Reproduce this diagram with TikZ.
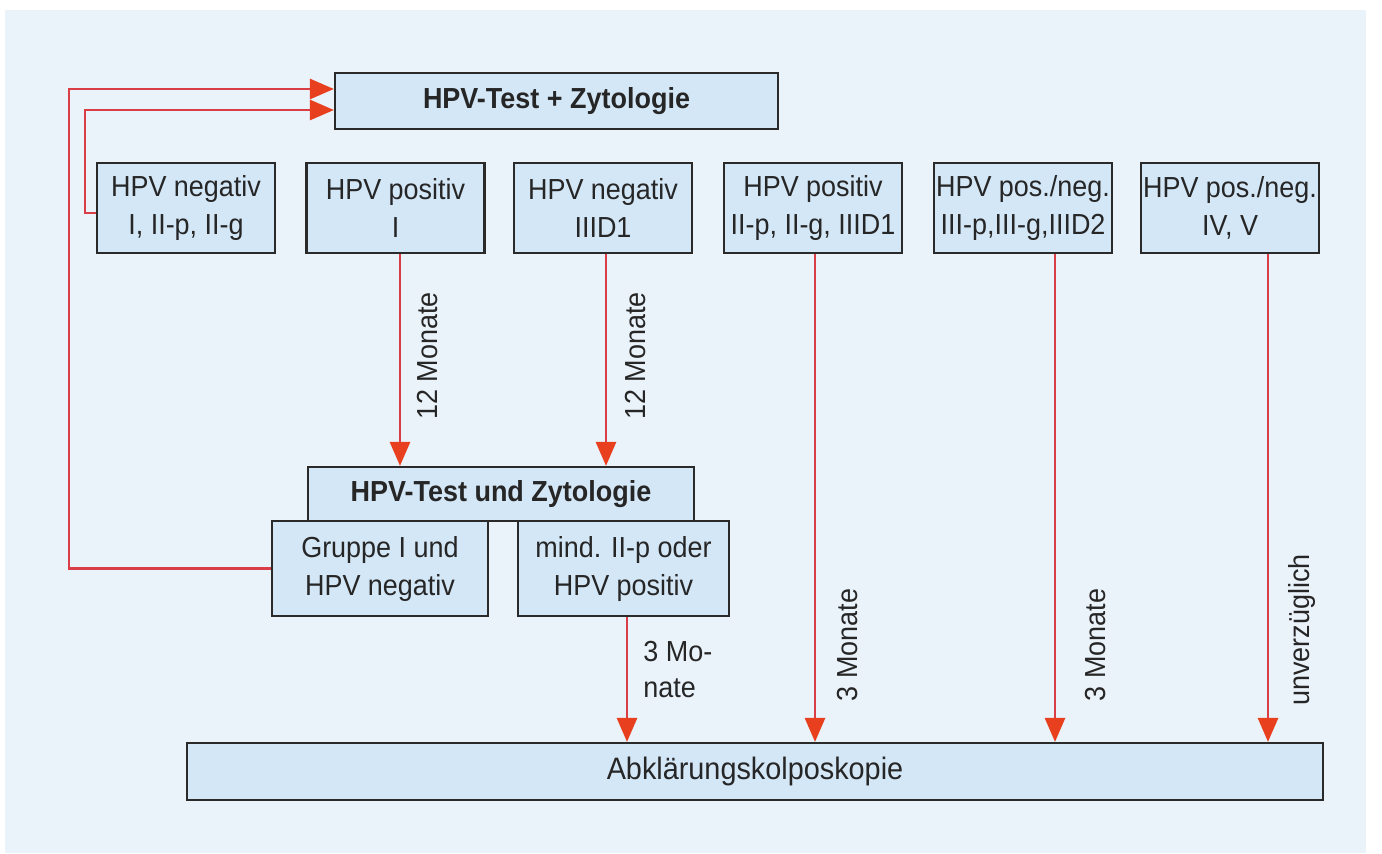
\documentclass[tikz,border=0pt]{standalone}
\usepackage{fontspec}
\setmainfont{Liberation Sans}[FakeStretch=0.93]
\usetikzlibrary{arrows.meta}
\definecolor{panel}{HTML}{EAF2FA}
\definecolor{boxfill}{HTML}{D4E7F7}
\definecolor{boxline}{HTML}{2A2A2A}
\definecolor{arrred}{HTML}{D93E46}
\definecolor{tipred}{HTML}{E8401E}
\tikzset{
  box/.style={draw=boxline, fill=boxfill, line width=1.1pt, align=center, inner sep=0pt,
    text=black!85, font=\fontsize{14.5}{19}\selectfont},
  arr/.style={draw=arrred, line width=1.4pt, -{Triangle[length=12pt,width=10pt,color=tipred]}},
  lbl/.style={inner sep=0pt, font=\fontsize{14.5}{18}\selectfont, text=black!85}
}
\begin{document}
\begin{tikzpicture}[x=0.5pt,y=-0.5pt]
\useasboundingbox (0,0) rectangle (1382,853);
\fill[panel] (5,10) rectangle (1366,853);
% top
\node[box, minimum width=221.5pt, minimum height=28pt, font=\fontsize{14.5}{19}\selectfont\bfseries] (top) at (556.5,101) {HPV-Test + Zytologie};
% row
\node[box, minimum width=89pt, minimum height=45pt] (b1) at (186,208) {HPV negativ\\I, II-p, II-g};
\node[box, minimum width=89pt, minimum height=45pt] (b2) at (395.5,208) {HPV positiv\\I};
\node[box, minimum width=89pt, minimum height=45pt] (b3) at (603,208) {HPV negativ\\IIID1};
\node[box, minimum width=89pt, minimum height=45pt] (b4) at (813,208) {HPV positiv\\II-p, II-g, IIID1};
\node[box, minimum width=89pt, minimum height=45pt] (b5) at (1023,208) {HPV pos./neg.\\III-p,III-g,IIID2};
\node[box, minimum width=89pt, minimum height=45pt] (b6) at (1230,208) {HPV pos./neg.\\IV, V};
% middle
\node[box, minimum width=193pt, minimum height=27pt, font=\fontsize{14.5}{19}\selectfont\bfseries] (mid) at (501,494) {HPV-Test und Zytologie};
\node[box, minimum width=108pt, minimum height=47.5pt] (grp) at (380,568.5) {Gruppe I und\\HPV negativ};
\node[box, minimum width=105.5pt, minimum height=47.5pt] (mnd) at (623.5,568.5) {mind. II-p oder\\HPV positiv};
% bottom
\node[box, minimum width=568pt, minimum height=28.5pt, font=\fontsize{15.5}{19}\selectfont] (bot) at (755,771.5) {Abklärungskolposkopie};
% arrow x positions
\coordinate (x2) at (400,0);
\coordinate (x3) at (606,0);
\coordinate (xm) at (627,0);
\coordinate (x4) at (815,0);
\coordinate (x5) at (1055,0);
\coordinate (x6) at (1268,0);
\draw[arr] (b2.south -| x2) -- (mid.north -| x2);
\draw[arr] (b3.south -| x3) -- (mid.north -| x3);
\draw[arr] (mnd.south -| xm) -- (bot.north -| xm);
\draw[arr] (b4.south -| x4) -- (bot.north -| x4);
\draw[arr] (b5.south -| x5) -- (bot.north -| x5);
\draw[arr] (b6.south -| x6) -- (bot.north -| x6);
% feedback
\coordinate (c1) at (85,110);
\coordinate (c2) at (69,89);
\draw[arr] ([yshift=-2.5pt]b1.west) -| (c1) -- (top.west |- c1);
\draw[arr] (grp.west) -| (c2) -- (top.west |- c2);
% labels
\node[lbl, rotate=90] (l2) at (428,356) {12 Monate};
\node[lbl, rotate=90] (l3) at (636,356) {12 Monate};
\node[lbl, align=left, anchor=west] (lm) at (643,670) {3 Mo-\\nate};
\node[lbl, rotate=90] (l4) at (848,645) {3 Monate};
\node[lbl, rotate=90] (l5) at (1096,645) {3 Monate};
\node[lbl, rotate=90] (l6) at (1302,630) {unverzüglich};
\end{tikzpicture}
\end{document}
